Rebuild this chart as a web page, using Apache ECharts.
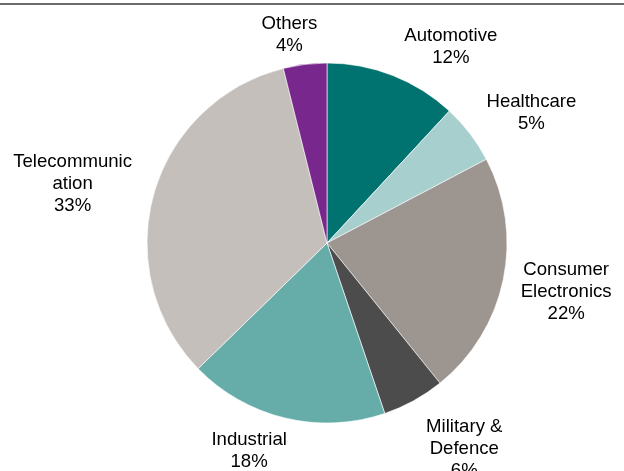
<!DOCTYPE html>
<html><head><meta charset="utf-8">
<script src="https://cdn.jsdelivr.net/npm/echarts@6/dist/echarts.min.js"></script>
<style>html,body{margin:0;padding:0;background:#fff}#c{width:624px;height:471px}</style>
</head><body><div id="c"></div>
<script>
const categories = ['Automotive','Healthcare','Consumer Electronics','Military & Defence','Industrial','Telecommunication','Others'];
const labelNames = ['Automotive','Healthcare','Consumer\nElectronics','Military &\nDefence','Industrial','Telecommunic\nation','Others'];
const shares = [11.9, 5.4, 21.9, 5.6, 17.9, 33.4, 3.9];
const colors = ['#00726F','#A7CFCE','#9D958F','#4C4C4C','#66ADAA','#C4BFBB','#78278C'];
// label placement tweaks (layout only)
const labelNudge = [[40, 17], [13, 16], [1, 0], [22, -4], [-26, -8], [-6, 11], [-11, 7]];

const CX = 327, CY = 243, R = 180, GAP = 12;
const total = shares.reduce((a, b) => a + b, 0);
const mids = [];
let acc = 0;
shares.forEach(v => { mids.push((acc + v / 2) / total * 2 * Math.PI); acc += v; });

const chart = echarts.init(document.getElementById('c'));
chart.setOption({
  animation: false,
  graphic: [{ type: 'line', shape: { x1: 0, y1: 4, x2: 624, y2: 4 }, style: { stroke: '#3a3a3a', lineWidth: 1.5 } }],
  series: [{
    type: 'pie', center: [CX, CY], radius: R, startAngle: 90, clockwise: true,
    percentPrecision: 0, avoidLabelOverlap: false,
    data: categories.map((c, i) => ({ name: c, value: shares[i], itemStyle: { color: colors[i] } })),
    itemStyle: { borderColor: '#fff', borderWidth: 0.6 },
    label: {
      show: true, position: 'outside',
      formatter: p => labelNames[p.dataIndex] + '\n' + p.percent + '%',
      fontFamily: 'Liberation Sans, Arial, sans-serif', fontSize: 18.6, color: '#000', lineHeight: 22
    },
    labelLine: { show: false },
    labelLayout: p => {
      const i = p.dataIndex;
      const a = mids[i];
      const dx = Math.sin(a), dy = -Math.cos(a);
      const w = p.labelRect.width, h = p.labelRect.height;
      const d = R + GAP + Math.abs(dx) * w / 2 + Math.abs(dy) * h / 2;
      return { x: CX + dx * d + labelNudge[i][0], y: CY + dy * d + labelNudge[i][1], align: 'center', verticalAlign: 'middle' };
    }
  }]
});
</script></body></html>
